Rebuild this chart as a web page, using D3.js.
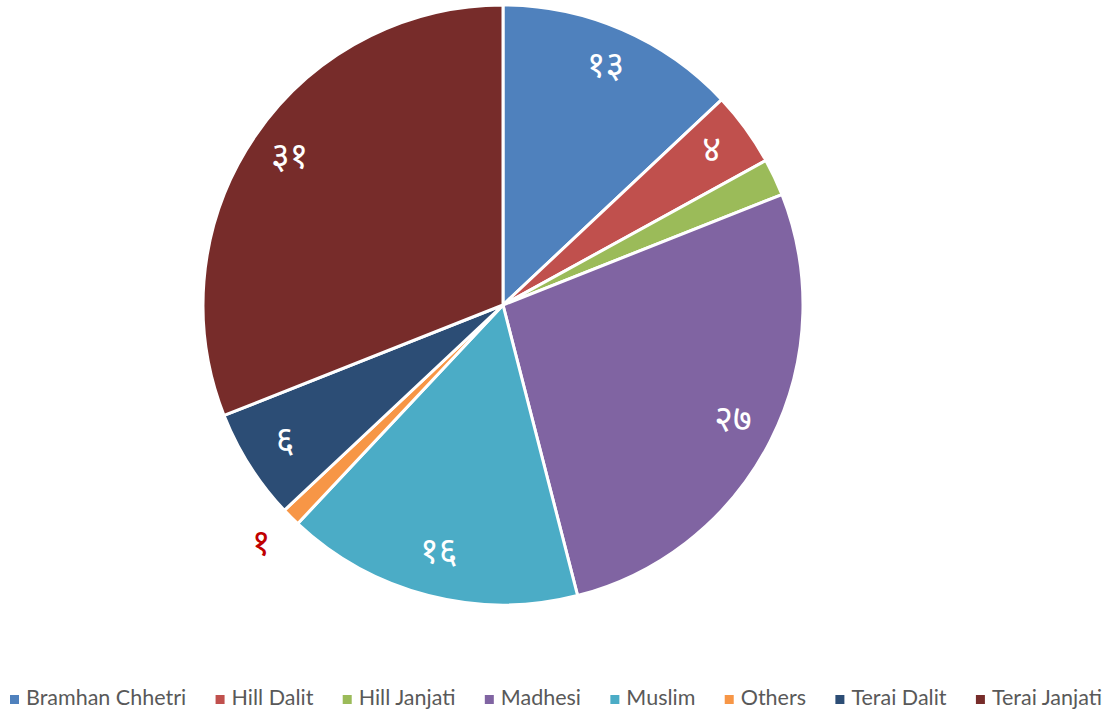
<!DOCTYPE html>
<html>
<head>
<meta charset="utf-8">
<script src="https://cdn.jsdelivr.net/npm/d3@7"></script>
<style>
  body { margin: 0; background: #fff; }
  svg { display: block; }
</style>
</head>
<body>
<div id="chart"></div>
<script>
// data
const groups = ["Bramhan Chhetri", "Hill Dalit", "Hill Janjati", "Madhesi", "Muslim", "Others", "Terai Dalit", "Terai Janjati"];
const shares = [13, 4, 2, 27, 16, 1, 6, 31];
const labelText = ["१३", "४", "", "२७", "१६", "१", "६", "३१"];
const colors = ["#4f81bd", "#c0504d", "#9bbb59", "#8064a2", "#4bacc6", "#f79646", "#2c4d75", "#772c2a"];

const width = 1112, height = 713;
const cx = 503, cy = 305, r = 300;

const svg = d3.select("#chart")
    .append("svg")
    .attr("width", width)
    .attr("height", height);

const data = groups.map((g, i) => ({ name: g, value: shares[i], label: labelText[i], color: colors[i] }));

const pie = d3.pie()
    .value(d => d.value)
    .sort(null);

const arc = d3.arc().innerRadius(0).outerRadius(r);
const labelArc = d3.arc().innerRadius(258).outerRadius(258);
const outsideArc = d3.arc().innerRadius(342).outerRadius(342);

const g = svg.append("g")
    .attr("transform", `translate(${cx},${cy})`);

const arcs = pie(data);

g.selectAll("path")
    .data(arcs)
    .enter()
    .append("path")
    .attr("d", arc)
    .attr("fill", d => d.data.color)
    .attr("stroke", "#fff")
    .attr("stroke-width", 3)
    .attr("stroke-linejoin", "round");

// small slices get the label outside in red
g.selectAll("text.lbl")
    .data(arcs.filter(d => d.data.label))
    .enter()
    .append("text")
    .attr("class", "lbl")
    .attr("transform", d => {
        const c = d.data.value < 2 ? outsideArc.centroid(d) : labelArc.centroid(d);
        return `translate(${c[0]},${c[1]})`;
    })
    .attr("text-anchor", "middle")
    .attr("dominant-baseline", "central")
    .attr("font-family", "'Noto Sans Devanagari', 'Noto Sans', sans-serif")
    .attr("font-size", 36)
    .attr("fill", d => d.data.value < 2 ? "#c00000" : "#fff")
    .text(d => d.data.label);

// legend
const legend = svg.append("g")
    .attr("font-family", "Lato, 'Noto Sans', sans-serif")
    .attr("font-size", 21.5)
    .attr("fill", "#595959");

const items = legend.selectAll("g")
    .data(data)
    .enter()
    .append("g");

items.append("rect")
    .attr("width", 9)
    .attr("height", 9)
    .attr("y", -10)
    .attr("fill", d => d.color);

items.append("text")
    .attr("x", 16)
    .attr("y", 0)
    .text(d => d.name);

// spread legend items between x=10 and x=1102
const widths = [];
items.each(function() {
    widths.push(16 + d3.select(this).select("text").node().getComputedTextLength());
});
const total = d3.sum(widths);
const gap = (1102 - 10 - total) / (widths.length - 1);
let xPos = 10;
items.each(function(d, i) {
    d3.select(this).attr("transform", `translate(${xPos},705)`);
    xPos += widths[i] + gap;
});
</script>
</body>
</html>
